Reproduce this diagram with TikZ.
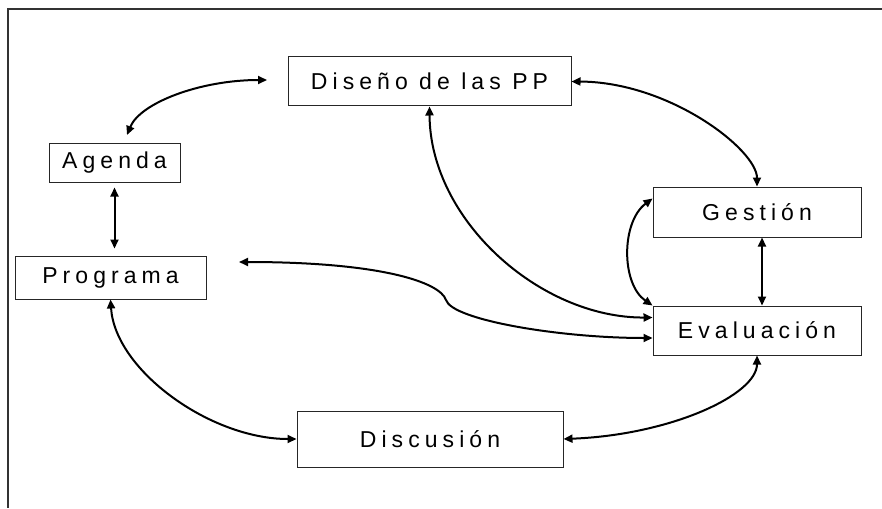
\documentclass[tikz,border=0pt]{standalone}
\usepackage{fontspec}
\setmainfont{Liberation Sans}
\newfontfamily\boxfont[LetterSpace=22]{Liberation Sans}
\usetikzlibrary{arrows.meta,calc}
\begin{document}
\begin{tikzpicture}[x=1pt,y=-1pt,
  box/.style={draw=black!85, line width=1pt, inner sep=0pt, font=\boxfont\fontsize{23}{27}\selectfont},
  link/.style={line width=2pt, {Triangle[length=9pt,width=8pt]}-{Triangle[length=9pt,width=8pt]}},
  frame/.style={draw=black!80, line width=1.1pt}]
\useasboundingbox (0,0) rectangle (882,508);
\draw[frame] (882,9) -- (8,9) -- (8,508);
\node[box, minimum width=283pt, minimum height=49pt] (diseno) at (429.5,81.5) {Diseño de las PP};
\node[box, minimum width=131pt, minimum height=39pt] (agenda) at (114.5,162.5) {Agenda};
\node[box, minimum width=191pt, minimum height=43pt] (programa) at (110.5,277.5) {Programa};
\node[box, minimum width=208pt, minimum height=50pt] (gestion) at (757,212) {Gestión};
\node[box, minimum width=208pt, minimum height=49pt] (evaluacion) at (757,330.5) {Evaluación};
\node[box, minimum width=266pt, minimum height=56pt] (discusion) at (430,439) {Discusión};
\coordinate (agtop) at (127,135);
\coordinate (disleft) at (267,80);
\coordinate (prright) at (239,262);
\coordinate (kink) at (446,300);
% connectors
\draw[link] (agtop) .. controls (140,103) and (200,80) .. (disleft);
\draw[link] (diseno.east) .. controls (670,82) and (757,150) .. (gestion.north);
\draw[link] (diseno.south) .. controls (430,220) and (540,318) .. ([yshift=-12pt]evaluacion.north west);
\draw[link] (agenda.south) ++(0,5) -- ($(agenda.south |- programa.north)+(0,-7)$);
\draw[link] (prright) .. controls (380,262) and (440,282) .. (kink) .. controls (452,320) and (560,338) .. ([yshift=-7.5pt]evaluacion.west);
\draw[link] ([yshift=-12pt]gestion.north west) .. controls (621,222) and (621,284) .. (evaluacion.north west);
\draw[link] ([xshift=5pt]gestion.south) -- ([xshift=5pt]evaluacion.north);
\draw[link] (programa.south) .. controls (115,370) and (210,439) .. (discusion.west);
\draw[link] (discusion.east) .. controls (670,435) and (757,395) .. (evaluacion.south);
\end{tikzpicture}
\end{document}
